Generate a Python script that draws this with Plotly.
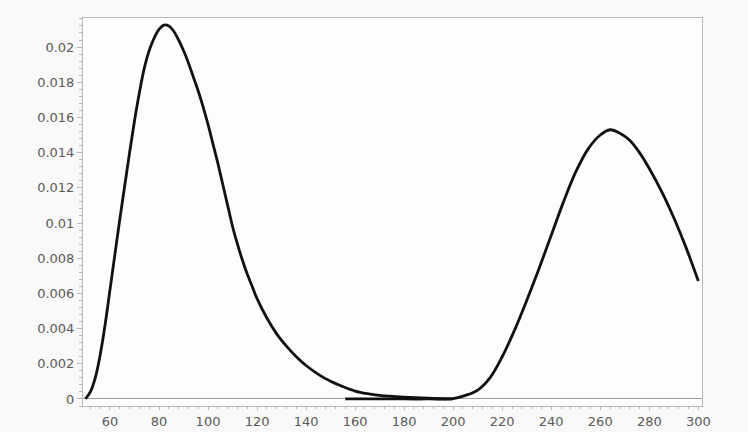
import plotly.graph_objects as go

# Curve 1 (left peak)
x1 = [50, 52, 54, 56, 58, 60, 62, 64, 66, 68, 70, 72, 74, 76, 78, 80, 82, 84, 86, 88, 90,
      92, 94, 96, 98, 100, 102, 104, 106, 108, 110, 112, 114, 116, 118, 120, 124, 128, 132,
      136, 140, 145, 150, 155, 160, 165, 170, 180, 190, 200]
y1 = [0.0, 0.0004, 0.0012, 0.0025, 0.0042, 0.0062, 0.0082, 0.0102, 0.0121, 0.0140, 0.0158,
      0.0174, 0.0188, 0.0198, 0.0205, 0.0210, 0.02125, 0.0212, 0.0209, 0.0204, 0.0198,
      0.0191, 0.0183, 0.0175, 0.0166, 0.0156, 0.0145, 0.0134, 0.0122, 0.0110, 0.0098,
      0.0088, 0.0079, 0.0071, 0.0064, 0.0057, 0.0046, 0.0037, 0.0030, 0.0024, 0.0019,
      0.0014, 0.0010, 0.0007, 0.00045, 0.0003, 0.0002, 0.0001, 0.00004, 0.00001]

# Curve 2 (right peak)
x2 = [156, 170, 180, 190, 200, 205, 210, 215, 220, 225, 230, 235, 240, 245, 250, 255, 260,
      264, 268, 272, 276, 280, 285, 290, 295, 300]
y2 = [0.0, 0.0, 0.0, 0.0, 0.00002, 0.0002, 0.0005, 0.0012, 0.0024, 0.0039, 0.0056, 0.0074,
      0.0093, 0.0112, 0.0129, 0.0142, 0.0150, 0.0153, 0.0151, 0.0147, 0.0140, 0.0131,
      0.0118, 0.0103, 0.0086, 0.0067]

x_ticks = [60, 80, 100, 120, 140, 160, 180, 200, 220, 240, 260, 280, 300]
y_ticks = [0, 0.002, 0.004, 0.006, 0.008, 0.01, 0.012, 0.014, 0.016, 0.018, 0.02]
y_tick_text = ["0", "0.002", "0.004", "0.006", "0.008", "0.01", "0.012", "0.014",
               "0.016", "0.018", "0.02"]

fig = go.Figure()
fig.add_trace(go.Scatter(x=x1, y=y1, mode="lines",
                         line=dict(color="#111111", width=2.8, shape="spline", smoothing=1.0),
                         showlegend=False))
fig.add_trace(go.Scatter(x=x2, y=y2, mode="lines",
                         line=dict(color="#111111", width=2.8, shape="spline", smoothing=1.0),
                         showlegend=False))

axis_col = "#b8b8b8"
font = dict(family="DejaVu Sans, Verdana, sans-serif", size=13, color="#5a5a5a")

fig.update_layout(
    width=748, height=432,
    margin=dict(l=83, r=46, t=18, b=26, autoexpand=False),
    paper_bgcolor="#f9f9f9",
    plot_bgcolor="#fdfdfd",
    font=font,
    xaxis=dict(
        range=[49, 301.5], tickvals=x_ticks, showgrid=False, zeroline=False, automargin=False,
        showline=True, linecolor=axis_col, linewidth=1, mirror=True,
        ticks="outside", ticklen=3, tickcolor=axis_col,
        minor=dict(dtick=4, tick0=0, ticks="outside", ticklen=2, tickcolor=axis_col, showgrid=False),
        tickfont=font,
    ),
    yaxis=dict(
        range=[-0.0004, 0.02165], tickvals=y_ticks, ticktext=y_tick_text, showgrid=False,
        zeroline=True, zerolinecolor="#a0a0a0", zerolinewidth=1, automargin=False,
        showline=True, linecolor=axis_col, linewidth=1, mirror=True,
        ticks="outside", ticklen=5, tickcolor=axis_col,
        minor=dict(dtick=0.0004, tick0=0, ticks="outside", ticklen=3, tickcolor=axis_col, showgrid=False),
        tickfont=font,
    ),
)

fig.write_html("out.html", config={"displayModeBar": False},
               post_script="document.body.style.margin='0';")
